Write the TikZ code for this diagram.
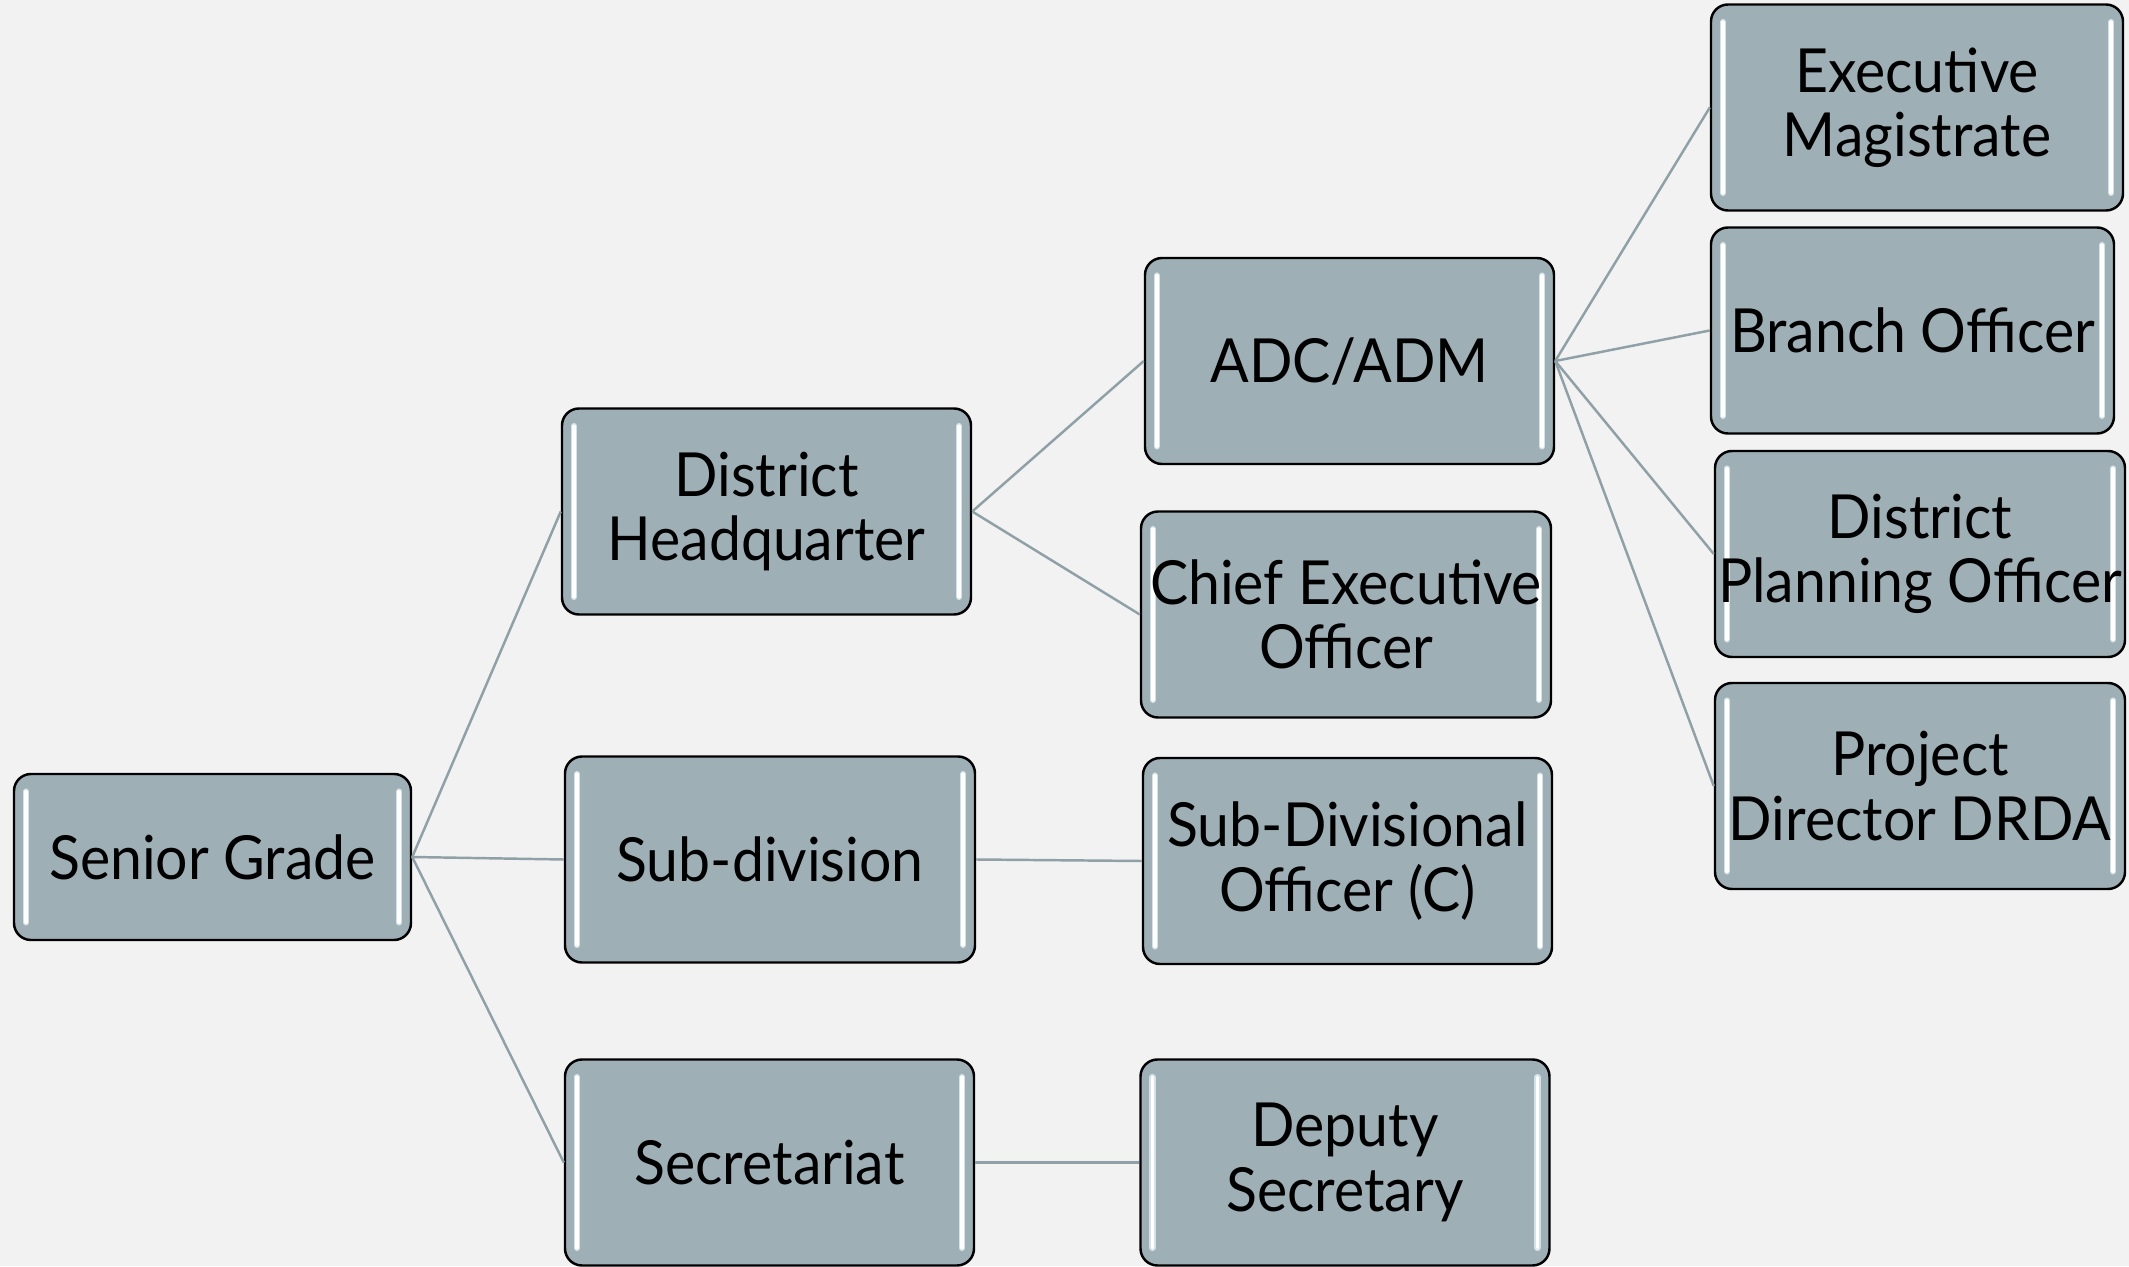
\documentclass[tikz,border=0pt]{standalone}
\usepackage{fontspec}
\setmainfont{Lato}[FakeStretch=0.94]
\definecolor{bg}{HTML}{F2F2F2}
\definecolor{boxfill}{HTML}{9EAFB5}
\definecolor{linkcol}{HTML}{8FA0A7}
\definecolor{glow}{HTML}{D4E2E7}
\tikzset{
  orgbox/.style={draw=black, line width=0.7pt, rounded corners=0.17cm, fill=boxfill,
    inner sep=0pt, align=center, font=\fontsize{17.3}{18.3}\selectfont,
    minimum width=4.09cm, minimum height=2.06cm,
    path picture={
      \foreach \s/\a/\b in {1/north west/south west,-1/north east/south east}{
        \draw[glow, line width=1.8pt, line cap=round]
          ([xshift=\s*3.4pt,yshift=-5pt]path picture bounding box.\a) --
          ([xshift=\s*3.4pt,yshift=5pt]path picture bounding box.\b);
        \draw[white, line width=0.9pt, line cap=round]
          ([xshift=\s*3.4pt,yshift=-5pt]path picture bounding box.\a) --
          ([xshift=\s*3.4pt,yshift=5pt]path picture bounding box.\b);
      }
    }},
  link/.style={draw=linkcol, line width=0.7pt}
}
\begin{document}
\begin{tikzpicture}
\fill[bg] (0,0) rectangle (21.29,12.66);
\useasboundingbox (0,0) rectangle (21.29,12.66);

\node[orgbox, minimum width=3.97cm, minimum height=1.66cm] (sg) at (2.125,4.09) {Senior Grade};
\node[orgbox] (dhq) at (7.665,7.545) {District\\Headquarter};
\node[orgbox, minimum width=4.10cm] (sub) at (7.70,4.065) {Sub-division};
\node[orgbox] (sec) at (7.695,1.035) {Secretariat};
\node[orgbox] (adc) at (13.495,9.05) {ADC/ADM};
\node[orgbox, minimum width=4.10cm] (ceo) at (13.46,6.515) {Chief Executive\\Officer};
\node[orgbox] (sdo) at (13.475,4.05) {Sub-Divisional\\Officer (C)};
\node[orgbox] (dep) at (13.45,1.035) {Deputy\\Secretary};
\node[orgbox, minimum width=4.12cm] (em) at (19.17,11.585) {Executive\\Magistrate};
\node[orgbox, minimum width=4.03cm] (bo) at (19.125,9.355) {Branch Officer};
\node[orgbox, minimum width=4.10cm] (dpo) at (19.20,7.12) {District\\Planning Officer};
\node[orgbox, minimum width=4.10cm] (pd) at (19.20,4.80) {Project\\Director DRDA};

\draw[link] (sg.east) -- (dhq.west);
\draw[link] (sg.east) -- (sub.west);
\draw[link] (sg.east) -- (sec.west);
\draw[link] (dhq.east) -- (adc.west);
\draw[link] (dhq.east) -- (ceo.west);
\draw[link] (sub.east) -- (sdo.west);
\draw[link] (sec.east) -- (dep.west);
\draw[link] (adc.east) -- (em.west);
\draw[link] (adc.east) -- (bo.west);
\draw[link] (adc.east) -- (dpo.west);
\draw[link] (adc.east) -- (pd.west);
\end{tikzpicture}
\end{document}
